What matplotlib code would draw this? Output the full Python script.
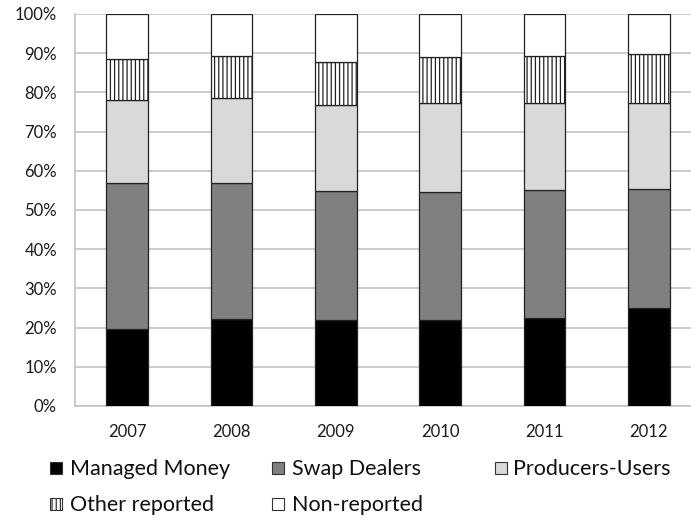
import matplotlib
matplotlib.use("Agg")
import matplotlib.pyplot as plt
from matplotlib.patches import Rectangle
import numpy as np

years = ["2007", "2008", "2009", "2010", "2011", "2012"]
managed_money = [19.7, 22.3, 21.9, 21.9, 22.5, 25.0]
swap_dealers = [37.3, 34.7, 32.9, 32.6, 32.7, 30.4]
producers_users = [21.0, 21.5, 21.9, 22.7, 22.0, 22.0]
other_reported = [10.5, 10.8, 11.1, 11.9, 12.2, 12.5]
non_reported = [11.5, 10.7, 12.2, 10.9, 10.6, 10.1]

series_names = ["Managed Money", "Swap Dealers", "Producers-Users", "Other reported", "Non-reported"]
series_vals = [managed_money, swap_dealers, producers_users, other_reported, non_reported]
colors = ["#000000", "#808080", "#d9d9d9", "#ffffff", "#ffffff"]
hatches = [None, None, None, "||||", None]

plt.rcParams['font.family'] = ['Lato', 'DejaVu Sans']
plt.rcParams['hatch.linewidth'] = 0.9
plt.rcParams['hatch.color'] = 'black'

fig = plt.figure(figsize=(6.91, 5.18), dpi=100)
ax = fig.add_axes([75/691, 1 - 406/518, 626/691, 392/518])

x = np.arange(len(years))
bottom = np.zeros(len(years))
for name, vals, c, h in zip(series_names, series_vals, colors, hatches):
    ax.bar(x, vals, width=0.40, bottom=bottom, color=c, edgecolor="#222222",
           linewidth=0.9, hatch=h, zorder=3, label=name)
    bottom += np.array(vals)

ax.set_xlim(-0.5, 5.5)
ax.set_ylim(0, 100)
ax.set_yticks(np.arange(0, 101, 10))
ax.set_yticklabels([f"{v}%" for v in range(0, 101, 10)])
ax.set_xticks(x)
ax.set_xticklabels(years)
ax.grid(axis='y', color='#bfbfbf', linewidth=1.1, zorder=0)
ax.tick_params(axis='both', length=0, labelsize=12, colors='#1a1a1a')
ax.tick_params(axis='y', pad=13)
ax.tick_params(axis='x', pad=13)
for s in ['top', 'right']:
    ax.spines[s].set_visible(False)
for s in ['left', 'bottom']:
    ax.spines[s].set_color('#bfbfbf')
    ax.spines[s].set_linewidth(1.1)

# legend, drawn manually in pixel positions
H = 518.0
W = 691.0
leg = [
    (0, 50, 462, 70, 469),
    (1, 272, 462, 292, 469),
    (2, 495, 462, 513, 469),
    (3, 50, 498, 70, 505),
    (4, 272, 498, 292, 505),
]
for idx, sx, sy, tx, ty in leg:
    size = 12
    r = Rectangle((sx / W, 1 - (sy + size) / H), size / W, size / H,
                  transform=fig.transFigure, facecolor=colors[idx],
                  edgecolor="#333333", linewidth=0.8,
                  hatch=hatches[idx])
    fig.patches.append(r)
    fig.text(tx / W, 1 - ty / H, series_names[idx], fontsize=15.5,
             va='center', ha='left', color='#111111')

fig.savefig("out.png", dpi=100)
